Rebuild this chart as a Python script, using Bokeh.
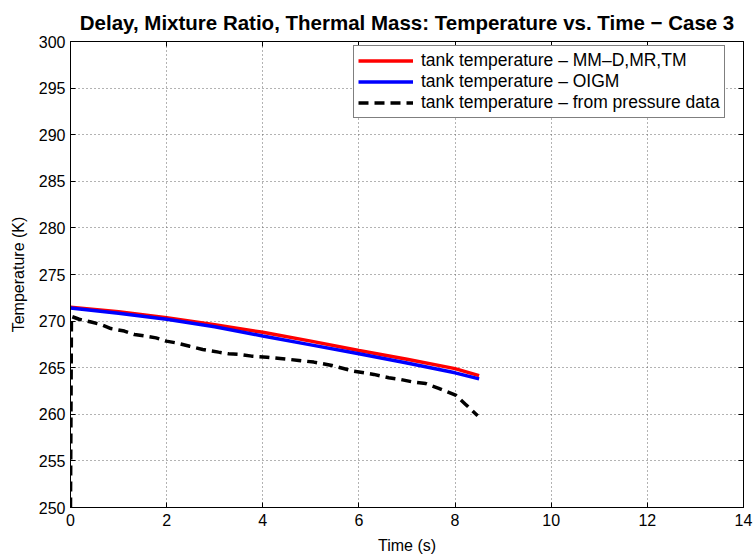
from bokeh.plotting import figure
from bokeh.models import (Range1d, FixedTicker, LinearAxis, Legend, LegendItem,
                          CustomJSTickFormatter)
from bokeh.embed import file_html
from bokeh.resources import INLINE

# ---- data ----
t_model = [0, 1, 2, 3, 4, 5, 6, 7, 8, 8.5]
temp_mmd = [271.5, 271.0, 270.35, 269.6, 268.8, 267.85, 266.85, 265.9, 264.9, 264.15]
temp_oigm = [271.4, 270.85, 270.2, 269.4, 268.4, 267.45, 266.5, 265.5, 264.45, 263.8]

t_press = [0, 0.02, 0.18, 0.43, 0.64, 0.84, 1.12, 1.33, 1.57, 1.78, 1.99, 2.2, 2.48, 2.75,
           3.08, 3.29, 3.53, 3.77, 4.09, 4.36, 4.57, 4.75, 5.06, 5.44, 5.89, 6.31, 6.62,
           6.86, 7.11, 7.39, 7.66, 8.01, 8.22, 8.47]
temp_press = [250, 270.5, 270.2, 269.9, 269.63, 269.2, 268.93, 268.56, 268.38, 268.2, 267.85,
              267.66, 267.3, 266.96, 266.67, 266.49, 266.42, 266.24, 266.13, 265.99, 265.88,
              265.78, 265.6, 265.24, 264.63, 264.28, 263.92, 263.74, 263.48, 263.3, 262.78,
              262.06, 261.06, 259.85]

x_ticks = [0, 2, 4, 6, 8, 10, 12, 14]
y_ticks = [250, 255, 260, 265, 270, 275, 280, 285, 290, 295, 300]

labels = ["tank temperature \u2013 MM\u2013D,MR,TM",
          "tank temperature \u2013 OIGM",
          "tank temperature \u2013 from pressure data"]
title_text = "Delay, Mixture Ratio, Thermal Mass: Temperature vs. Time \u2212 Case 3"

FONT = "Liberation Sans"

p = figure(width=754, height=558, x_range=Range1d(0, 14), y_range=Range1d(250, 300),
           output_backend="svg", toolbar_location=None,
           min_border_left=70, min_border_right=11, min_border_top=40, min_border_bottom=51)
p.background_fill_color = "white"
p.border_fill_color = "white"
p.outline_line_color = "black"
p.outline_line_width = 1

p.title.text = title_text
p.title.align = "center"
p.title.text_font = FONT
p.title.text_font_style = "bold"
p.title.text_font_size = "20.5px"
p.title.text_color = "black"
p.title.standoff = 16

for ax, ticks in ((p.xaxis[0], x_ticks), (p.yaxis[0], y_ticks)):
    ax.ticker = FixedTicker(ticks=ticks)
    ax.major_tick_in = 5
    ax.major_tick_out = 0
    ax.minor_tick_line_color = None
    ax.axis_line_color = "black"
    ax.major_tick_line_color = "black"
    ax.major_label_text_font = FONT
    ax.major_label_text_font_size = "16px"
    ax.major_label_text_color = "black"
    ax.axis_label_text_font = FONT
    ax.axis_label_text_font_size = "16px"
    ax.axis_label_text_font_style = "normal"
    ax.axis_label_text_color = "black"

p.xaxis[0].major_label_standoff = 6
p.yaxis[0].major_label_standoff = 5
p.xaxis[0].axis_label = "Time (s)"
p.yaxis[0].axis_label = "Temperature (K)"
p.xaxis[0].axis_label_standoff = 8
p.yaxis[0].axis_label_standoff = 9

blank = CustomJSTickFormatter(code="return '';")
top_ax = LinearAxis(ticker=FixedTicker(ticks=x_ticks), formatter=blank,
                    major_tick_in=5, major_tick_out=0, minor_tick_line_color=None,
                    axis_line_color="black", major_label_standoff=0,
                    major_label_text_font_size="1px")
right_ax = LinearAxis(ticker=FixedTicker(ticks=y_ticks), formatter=blank,
                      major_tick_in=5, major_tick_out=0, minor_tick_line_color=None,
                      axis_line_color="black", major_label_standoff=0,
                      major_label_text_font_size="1px")
p.add_layout(top_ax, "above")
p.add_layout(right_ax, "right")

p.xgrid.ticker = FixedTicker(ticks=x_ticks)
p.ygrid.ticker = FixedTicker(ticks=y_ticks)
for g in (p.xgrid[0], p.ygrid[0]):
    g.grid_line_color = "#666666"
    g.grid_line_dash = "1 3"
    g.grid_line_width = 1

r_red = p.line(t_model, temp_mmd, line_color="#ff0000", line_width=3.5)
r_blue = p.line(t_model, temp_oigm, line_color="#0000ff", line_width=3.5)
r_black = p.line(t_press, temp_press, line_color="black", line_width=3.5, line_dash="10 6")

legend = Legend(items=[LegendItem(label=labels[0], renderers=[r_red]),
                       LegendItem(label=labels[1], renderers=[r_blue]),
                       LegendItem(label=labels[2], renderers=[r_black])],
                location=(283, 389))
legend.label_text_font = FONT
legend.label_text_font_size = "17.5px"
legend.label_text_color = "black"
legend.glyph_width = 55
legend.glyph_height = 21
legend.label_height = 21
legend.spacing = 0
legend.padding = 4
legend.margin = 0
legend.label_standoff = 8
legend.border_line_color = "black"
legend.border_line_width = 1
legend.background_fill_color = "white"
legend.background_fill_alpha = 1
p.add_layout(legend, "center")

open("out.html", "w").write(file_html(p, INLINE))
